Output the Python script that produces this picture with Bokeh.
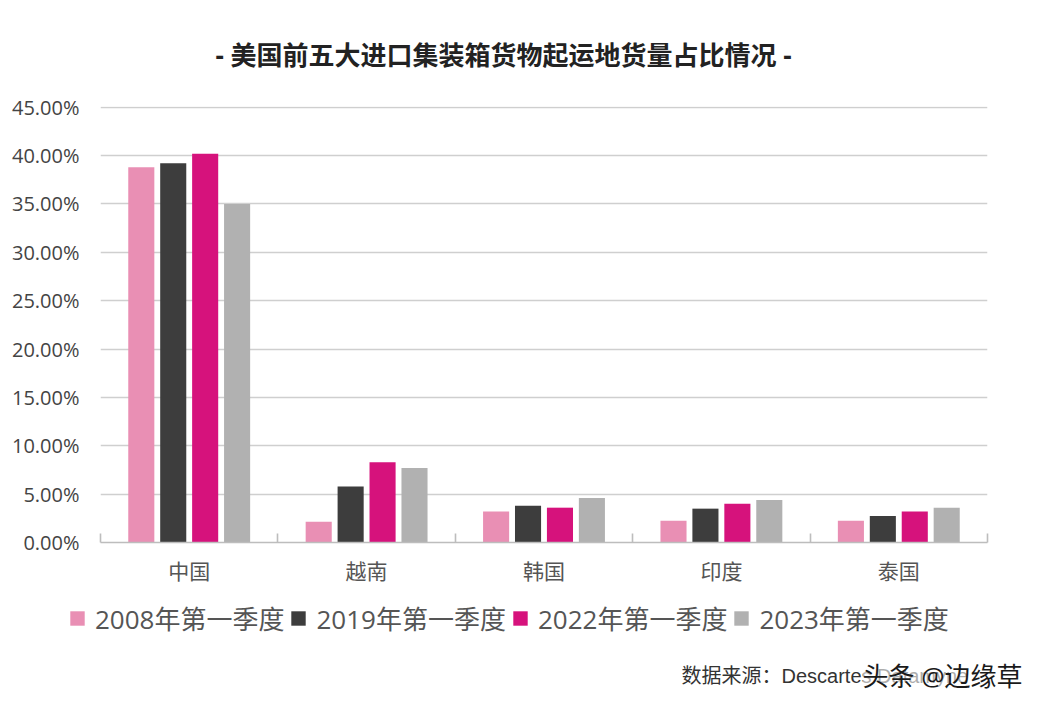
from bokeh.plotting import figure
from bokeh.layouts import column
from bokeh.models import (ColumnDataSource, FixedTicker, NumeralTickFormatter,
                          Legend, LegendItem, Label)
from bokeh.transform import dodge
from bokeh.embed import file_html
from bokeh.resources import INLINE

# Datos (proporción del volumen)
paises = ["中国", "越南", "韩国", "印度", "泰国"]
series = ["2008年第一季度", "2019年第一季度", "2022年第一季度", "2023年第一季度"]
v2008 = [0.388, 0.0215, 0.032, 0.0225, 0.0225]
v2019 = [0.392, 0.058, 0.038, 0.035, 0.0275]
v2022 = [0.402, 0.083, 0.036, 0.040, 0.032]
v2023 = [0.350, 0.077, 0.046, 0.044, 0.036]
colores = ["#e98fb4", "#3d3d3d", "#d6127c", "#b1b1b1"]

FUENTE = "'Open Sans', 'Noto Sans CJK SC'"

posiciones = [i + 0.5 for i in range(len(paises))]
datos = ColumnDataSource(data={
    "x": posiciones, "v2008": v2008, "v2019": v2019,
    "v2022": v2022, "v2023": v2023,
})

# ------------------------------------------------
# Figura principal (barras + ejes + título)
# ------------------------------------------------
p = figure(width=1032, height=592, x_range=(0, 5), y_range=(0, 0.4508),
           output_backend="svg", toolbar_location=None,
           min_border_left=100, min_border_right=45,
           min_border_top=103, min_border_bottom=50)
p.outline_line_color = None

p.title.text = "- 美国前五大进口集装箱货物起运地货量占比情况 -"
p.title.align = "left"
p.title.offset = 115
p.title.standoff = 68
p.title.text_font = FUENTE
p.title.text_font_size = "26px"
p.title.text_font_style = "bold"
p.title.text_color = "#222222"

renderers = []
desplazamientos = [-0.27, -0.09, 0.09, 0.27]
for col, d, c in zip(["v2008", "v2019", "v2022", "v2023"], desplazamientos, colores):
    r = p.vbar(x=dodge("x", d, range=p.x_range), top=col, width=0.147,
               source=datos, color=c, line_color=None)
    renderers.append(r)

p.xgrid.grid_line_color = None
p.ygrid.grid_line_color = "#cfcfcf"
p.ygrid.grid_line_width = 1.6
p.yaxis.ticker = FixedTicker(ticks=[i * 0.05 for i in range(10)])
p.yaxis.formatter = NumeralTickFormatter(format="0.00%")
p.yaxis.axis_line_color = None
p.yaxis.major_tick_line_color = None
p.yaxis.minor_tick_line_color = None
p.yaxis.major_label_text_font = FUENTE
p.yaxis.major_label_text_font_size = "20px"
p.yaxis.major_label_text_color = "#444444"
p.yaxis.major_label_standoff = 15

p.xaxis.ticker = FixedTicker(ticks=posiciones, minor_ticks=list(range(6)))
p.xaxis.major_label_overrides = {pos: n for pos, n in zip(posiciones, paises)}
p.xaxis.axis_line_color = "#bdbdbd"
p.xaxis.axis_line_width = 1.6
p.xaxis.major_tick_line_color = None
p.xaxis.minor_tick_line_color = "#bdbdbd"
p.xaxis.minor_tick_line_width = 1.6
p.xaxis.minor_tick_in = 9
p.xaxis.minor_tick_out = 0
p.xaxis.major_label_text_font = FUENTE
p.xaxis.major_label_text_font_size = "21px"
p.xaxis.major_label_text_color = "#555555"
p.xaxis.major_label_standoff = 8

# ------------------------------------------------
# Pie: leyenda y fuente de los datos
# ------------------------------------------------
pie = figure(width=1032, height=102, x_range=(0, 1032), y_range=(0, 102),
             output_backend="svg", toolbar_location=None,
             x_axis_location=None, y_axis_location=None, min_border=0)
pie.frame_align = False
pie.outline_line_color = None
pie.xgrid.grid_line_color = None
pie.ygrid.grid_line_color = None

# Renderers sin barras visibles (NaN), solo para las muestras de la leyenda
muestras = []
for c in colores:
    muestras.append(pie.vbar(x=[float("nan")], top=[float("nan")], width=1,
                             color=c, line_color=None))

leyenda = Legend(items=[LegendItem(label=s, renderers=[r]) for s, r in zip(series, muestras)],
                 orientation="horizontal", location=(68, 57),
                 label_text_font=FUENTE, label_text_font_size="26px",
                 label_text_color="#555555", glyph_width=18, glyph_height=18,
                 label_standoff=9, spacing=5, padding=0, margin=0,
                 border_line_color=None, background_fill_alpha=0)
pie.add_layout(leyenda)

pie.add_layout(Label(x=681, y=19, text="数据来源：Descartes Datamyne",
                     text_font="'Liberation Sans', 'Noto Sans CJK SC'", text_font_size="20px",
                     text_color="#333333", text_align="left", text_baseline="middle"))
# Marca de agua superpuesta
pie.add_layout(Label(x=862, y=19, text="头条 @边缘草",
                     text_font=FUENTE, text_font_size="26px",
                     text_color="#1a1a1a", text_align="left", text_baseline="middle",
                     background_fill_color="white", background_fill_alpha=0.6))

open("out.html", "w").write(file_html(column(p, pie, spacing=0), INLINE))
